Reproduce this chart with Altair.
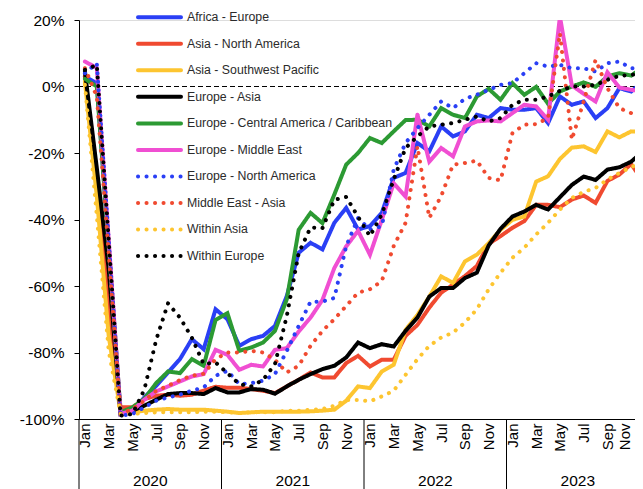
import json
import altair as alt
import pandas as pd

MONTHS = ["Jan", "Feb", "Mar", "Apr", "May", "Jun", "Jul", "Aug", "Sep", "Oct", "Nov", "Dec"]
YEARS = ["2020", "2021", "2022", "2023"]

SERIES = [
    "Africa - Europe",
    "Asia - North America",
    "Asia - Southwest Pacific",
    "Europe - Asia",
    "Europe - Central America / Caribbean",
    "Europe - Middle East",
    "Europe - North America",
    "Middle East - Asia",
    "Within Asia",
    "Within Europe",
]
COLORS = ["#2a3ff5", "#f04a30", "#fdc530", "#000000", "#2c9a33",
          "#f04fd2", "#2a3ff5", "#f04a30", "#fdc530", "#000000"]
SOLID = [1, 0]
DOTTED = [0.1, 8.4]
DASHES = [SOLID, SOLID, SOLID, SOLID, SOLID, SOLID, DOTTED, DOTTED, DOTTED, DOTTED]

# monthly % change, Jan 2020 .. Dec 2023
AFRICA_EUROPE = [
    3, 1, -48, -98.5, -97.5, -93.5, -90, -86, -82, -76, -79, -67,
    -70, -78, -76, -75, -72, -63, -50, -47, -49, -41, -36.5, -43,
    -42, -38, -27.5, -26, -17, -19.5, -12, -15, -13.5, -8.5, -9.5, -6.5,
    -7, -7, -6.5, -11, -3, -5.5, -4.5, -9.5, -6.5, -0.5, -1.5, 1.5,
]
ASIA_NORTH_AMERICA = [
    3, -30, -66, -96.5, -96.5, -94, -93, -92.7, -93, -92.7, -91.5, -90.3,
    -90.6, -90.6, -91, -91.5, -92.2, -90.2, -88.2, -86, -87.5, -87.5, -83.2, -81,
    -84.2, -82.2, -82.2, -75, -71.7, -66.5, -62, -59.6, -57, -54, -47.3, -45,
    -42.5, -40.5, -35.6, -35.6, -36.3, -34, -32.8, -35, -28.4, -26.5, -23.3, -28.6,
]
ASIA_SW_PACIFIC = [
    1.5, -33, -75, -98, -98, -97.5, -97.2, -97, -97.2, -97.2, -97.2, -97.5,
    -97.8, -98.2, -98, -97.8, -97.8, -97.8, -97.8, -97.7, -97.5, -97.2, -94.5, -90.2,
    -90.7, -85.7, -83.7, -73.2, -68.7, -63.2, -57.1, -59.1, -52.6, -50.6, -47.1, -43.1,
    -40.1, -39.1, -28.6, -27, -21.8, -18.4, -18, -19.7, -13.5, -15.3, -13.5, -13.7,
]
EUROPE_ASIA = [
    4.5, -24.5, -55, -98.5, -97.5, -96, -94.2, -92.5, -92.2, -92.2, -92.5, -90.7,
    -92, -92, -91, -91.2, -92.4, -90.2, -88.2, -86.5, -85, -84, -81.5, -77,
    -78.7, -77.5, -78.2, -73.5, -69.5, -63.2, -60.6, -60.6, -57.6, -56, -47.8, -42.8,
    -39.1, -37.6, -35.6, -37, -33.3, -29.6, -27.1, -28.1, -25, -24.3, -22.6, -19.5,
]
EUROPE_CENTRAL_AMERICA = [
    2.3, 0, -48, -98, -96.5, -94, -89.2, -85.7, -86.2, -82, -84, -70.2,
    -68.2, -79.5, -78.5, -77, -73.5, -64, -43.1, -38, -41.1, -32.5, -23.5, -20,
    -15.5, -17, -13.5, -10.1, -10, -12, -6.5, -8.5, -9.5, -3, -0.7, -4,
    1, -2.5, -0.1, -5.2, -1.5, 0, 1.2, -0.1, 3, 4, 3.3, 5.8,
]
EUROPE_MIDDLE_EAST = [
    7.5, 5.6, -46, -98.5, -97.5, -94.2, -91.7, -90.2, -88.7, -87.2, -86.5, -79.2,
    -80.7, -85.2, -83.7, -84.2, -79.2, -78.7, -73.7, -69.5, -64.2, -54.6, -48.1, -43.4,
    -50.6, -40.1, -29.1, -33.1, -8.4, -22.6, -18.5, -21, -12, -10.5, -10.2, -10.5,
    -8, -5.5, -6, -10, 21, 0.3, -2.2, -4.5, 4.3, -0.3, -1, -1.5,
]
EUROPE_NORTH_AMERICA = [
    4, 7, -46, -99, -98.5, -96.5, -94.5, -93.5, -92.7, -91.5, -90.5, -87,
    -85.5, -89.5, -89.2, -88.5, -86.5, -79.5, -72, -64.7, -64.7, -63.6, -48, -39.6,
    -43, -42, -25, -17, -12.5, -8.5, -4.5, -6.5, -3.7, -2.5, -1, 0.5,
    1, 4, 7, 6, 6.5, 5.5, 5.5, 4.5, 7, 7.5, 5.5, 5.5,
]
MIDDLE_EAST_ASIA = [
    5.5, -3, -50, -98.5, -97, -94.5, -91.5, -90, -88.3, -87, -86.4, -82,
    -80, -80, -79.5, -80, -82.2, -86, -84, -78, -73.5, -70, -66, -62,
    -61, -58.5, -48, -41, -18, -39.5, -33, -23.5, -23, -22.3, -27.5, -28.2,
    -14, -11.5, -11.3, -9.5, 16, -16, -4.5, 8, -0.5, -6.5, -8, -9.5,
]
WITHIN_ASIA = [
    0.5, -39, -79.5, -98.5, -98.5, -98.2, -98, -98, -98, -98, -97.8, -97.8,
    -98, -98.2, -98, -98, -98, -97.5, -97.5, -97.2, -97, -96, -94.3, -94.3,
    -94.7, -93.2, -91.5, -86.7, -82, -78, -75.5, -74, -71, -67, -61, -56,
    -51.5, -48.5, -44.5, -41, -37, -33.5, -31.7, -30.5, -28, -26, -24.3, -22.5,
]
WITHIN_EUROPE = [
    5, 6.5, -46, -99, -98.5, -91.2, -76.2, -65.2, -69.5, -75.5, -83.5, -83,
    -86.2, -89.5, -90.2, -88.2, -83.5, -69, -50.1, -42.4, -42.6, -34.1, -33.2, -39.2,
    -45, -38.5, -28, -18.5, -15, -12, -11.5, -11, -10, -9, -10.5, -9.5,
    -5.5, -4, -4, -3, -1.3, 0, 0, 0.5, 2, 3.2, 3.5, 4,
]

VALUES = [AFRICA_EUROPE, ASIA_NORTH_AMERICA, ASIA_SW_PACIFIC, EUROPE_ASIA,
          EUROPE_CENTRAL_AMERICA, EUROPE_MIDDLE_EAST, EUROPE_NORTH_AMERICA,
          MIDDLE_EAST_ASIA, WITHIN_ASIA, WITHIN_EUROPE]

FONT = "Liberation Sans"
W, H = 556, 399      # visible plot area (page is only 643 px wide)
X_RANGE = 570        # full 4-year span; the last days run past the window edge

rows = []
for name, vals in zip(SERIES, VALUES):
    for i, v in enumerate(vals):
        rows.append({"series": name, "t": i + 0.5, "value": v})
df = pd.DataFrame(rows)

n_months = len(MONTHS) * len(YEARS)
x_scale = alt.Scale(domain=[0, n_months], range=[0, X_RANGE], nice=False, zero=False)
y_scale = alt.Scale(domain=[-100, 20], nice=False, zero=False)
color_scale = alt.Scale(domain=SERIES, range=COLORS)
dash_scale = alt.Scale(domain=SERIES, range=DASHES)

month_expr = json.dumps(MONTHS) + "[floor(datum.value) % 12]"

x_axis = alt.Axis(
    values=[k + 0.5 for k in range(0, n_months, 2)],
    labelExpr=month_expr, labelAngle=-90, ticks=False, grid=False, title=None,
    domainColor="black", labelColor="black", labelFont=FONT, labelFontSize=15,
    labelPadding=4, labelFlush=False, labelOverlap=False,
    labelOffset=alt.condition(f"datum.value > {n_months - 2}", alt.value(-7), alt.value(0)),
)
y_axis = alt.Axis(
    values=[-100, -80, -60, -40, -20, 0, 20], labelExpr="datum.value + '%'",
    tickSize=5, tickColor="black", domainColor="black", labelColor="black",
    labelFont=FONT, labelFontSize=15.5, labelPadding=10, grid=False, title=None,
)

zero = alt.Chart(pd.DataFrame({"v": [0]})).mark_rule(
    color="black", strokeWidth=1, strokeDash=[5, 3]
).encode(y=alt.Y("v:Q", scale=y_scale, axis=y_axis))

lines = alt.Chart(df).mark_line(strokeWidth=4, strokeCap="round", clip=True).encode(
    x=alt.X("t:Q", scale=x_scale, axis=x_axis),
    y=alt.Y("value:Q", scale=y_scale, axis=y_axis),
    color=alt.Color("series:N", scale=color_scale, legend=None),
    strokeDash=alt.StrokeDash("series:N", scale=dash_scale, legend=None),
)

yr = pd.DataFrame({
    "year": YEARS,
    "start": [12 * k for k in range(len(YEARS))],
    "mid": [12 * k + 6 for k in range(len(YEARS))],
})
dividers = alt.Chart(yr).mark_rule(color="black", strokeWidth=1).encode(
    x=alt.X("start:Q", scale=x_scale, axis=x_axis),
    y=alt.value(H), y2=alt.value(H + 80),
)
year_text = alt.Chart(yr).mark_text(
    font=FONT, fontSize=15.5, color="black", baseline="middle"
).encode(
    x=alt.X("mid:Q", scale=x_scale, axis=x_axis),
    y=alt.value(H + 62),
    text="year:N",
)

leg = pd.DataFrame({"series": SERIES, "ly": [-2.7 + 26.52 * i for i in range(len(SERIES))]})
leg_sym = alt.Chart(leg).mark_rule(strokeWidth=4, strokeCap="round").encode(
    x=alt.value(59), x2=alt.value(102),
    y=alt.Y("ly:Q", scale=None, axis=None),
    color=alt.Color("series:N", scale=color_scale, legend=None),
    strokeDash=alt.StrokeDash("series:N", scale=dash_scale, legend=None),
)
leg_txt = alt.Chart(leg).mark_text(
    align="left", baseline="middle", font=FONT, fontSize=12.3, color="#2b2b2b"
).encode(
    x=alt.value(108),
    y=alt.Y("ly:Q", scale=None, axis=None),
    text="series:N",
)

chart = alt.layer(zero, lines, dividers, year_text, leg_sym, leg_txt).properties(
    width=W, height=H,
    padding={"left": 71, "top": 12, "right": 0, "bottom": 72},
    autosize=alt.AutoSizeParams(type="none"),
).configure_view(stroke=None).configure(background="white")

chart.save("out.html", embed_options={"renderer": "svg", "actions": False})
